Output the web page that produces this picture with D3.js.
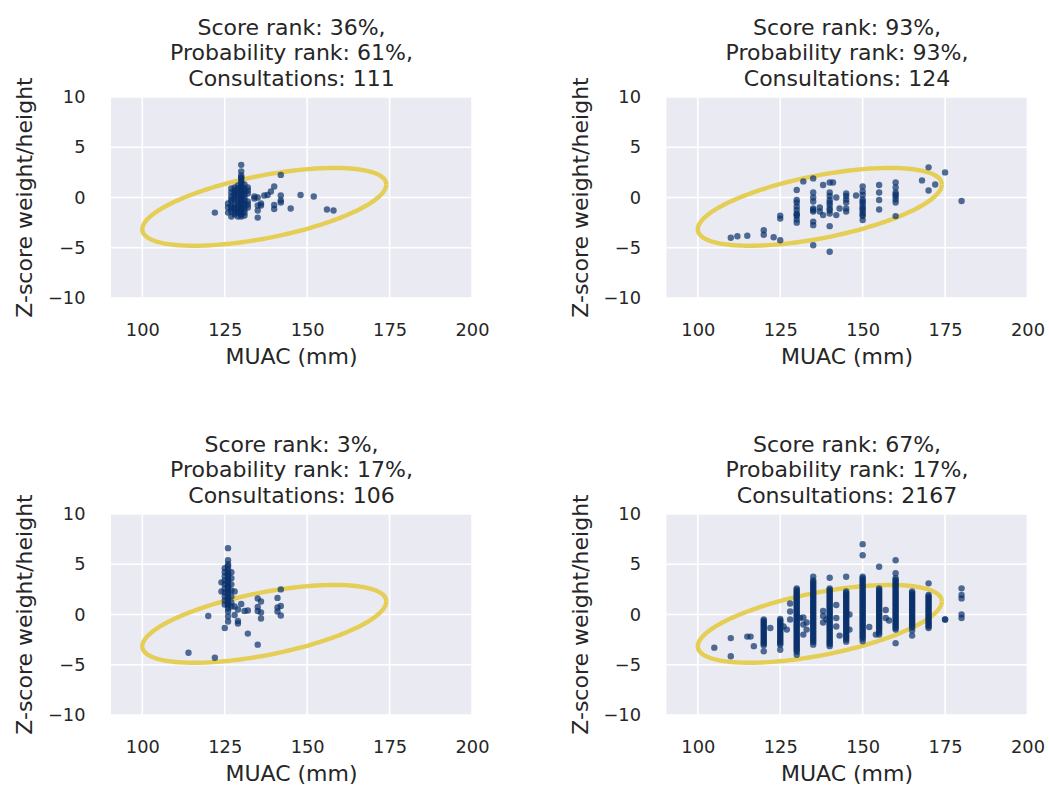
<html>
<head>
<meta charset="utf-8">
<style>
body
{
  margin:0;
  background:#ffffff;
}
text
{
  font-family:"DejaVu Sans", sans-serif;
  fill:#262626;
}
</style>
<script type="text/javascript" src="https://cdnjs.cloudflare.com/ajax/libs/d3/7.8.5/d3.min.js"></script>
</head>
<body>
<script>
// panel headers
var scoreRanks = ["36%", "93%", "3%", "67%"];
var probRanks = ["61%", "93%", "17%", "17%"];
var consultations = [111, 124, 106, 2167];

var xTicks = [100, 125, 150, 175, 200];
var yTicks = [-10, -5, 0, 5, 10];
var xDomain = [90.5, 200];
var yDomain = [-10, 10];

// reference ellipse (data units): centre, semi axes, angle in degrees
var ellipseCenter = [137, -0.93];
var ellipseRadii = [37.07, 3.16];
var ellipseAngle = 3.47;

// [MUAC, z-score]
var tlPoints = [
  [122,-1.5],[126,-1.0],[126,-1.5],[126,-0.6],
  [127,-1.9],[127,-1.4],[127,-0.9],[127,-0.4],[127,0.1],[127,0.5],[127,0.9],[127,-1.1],[127,-0.2],
  [128,-1.7],[128,-1.2],[128,-0.7],[128,-0.2],[128,0.3],[128,0.7],[128,-1.0],[128,0.0],[128,-1.5],[128,0.5],[128,1.0],
  [129,-1.5],[129,-0.5],[129,0.5],[129,1.2],[129,-1.9],[129,0.9],[129,-1.1],[129,-0.2],[129,0.2],[129,-0.8],[129,-1.3],
  [130,3.25],[130,2.6],[130,2.2],[130,1.9],[130,1.6],[130,1.3],[130,1.0],[130,0.7],[130,0.4],[130,0.1],
  [130,-0.2],[130,-0.5],[130,-0.8],[130,-1.1],[130,-1.4],[130,-1.7],[130,-1.9],[130,2.0],[130,0.9],
  [130,-0.3],[130,-1.2],[130,1.5],[130,0.2],[130,-0.9],[130,-1.6],[130,0.5],[130,-0.6],[130,1.1],
  [131,1.3],[131,0.6],[131,0.0],[131,-0.6],[131,-1.2],[131,-1.8],[131,-0.3],[131,0.3],[131,-0.9],[131,-1.5],[131,0.9],
  [132,1.0],[132,0.4],[132,-0.4],[132,-1.0],[132,-0.7],[132,0.7],
  [134,0.1],[134,-0.1],
  [135,-0.8],[135,-1.3],[135,-2.0],[135,0.0],
  [136,-0.8],[136,-0.6],
  [137,0.2],[138,0.25],[139,0.6],[140,1.1],[140,-0.75],[140,-1.15],
  [142,2.25],[142,0.2],[142,-0.3],[142,-0.5],
  [145,-1.1],[148,0.25],[152,0.1],[156,-1.2],[158,-1.3]
];

var trPoints = [
  [110,-4.0],[112,-3.85],[115,-3.8],[120,-3.25],[120,-3.7],[123,-3.95],[125,-4.25],[125,-1.8],[125,-2.1],
  [130,0.75],[130,-0.25],[130,-0.5],[130,-0.9],[130,-1.25],[130,-1.6],[130,-1.85],[130,-2.2],[130,-2.5],[130,-1.7],
  [132,1.6],[135,1.9],[135,0.5],[135,-0.4],[135,-1.1],[135,-1.4],[135,-2.4],[135,-2.75],[135,-4.75],[135,-1.25],[135,0.0],
  [137,-1.4],[138,-1.75],[138,1.25],[137,-1.0],
  [140,1.5],[140,0.5],[140,0.15],[140,-0.25],[140,-0.75],[140,-1.1],[140,-1.6],[140,-2.85],[140,-5.4],[141,1.5],
  [140,-0.5],[140,-1.3],
  [142,0.0],[142,-1.75],[143,-1.1],
  [145,0.4],[145,0.15],[145,-0.2],[145,-0.5],[145,-1.4],[145,-1.1],
  [148,0.2],
  [150,1.1],[150,0.6],[150,0.25],[150,-0.2],[150,-0.6],[150,-0.9],[150,-1.25],[150,-1.5],[150,-1.85],[150,-2.25],
  [150,-0.4],[150,-1.1],[150,-1.7],
  [155,1.25],[155,0.5],[155,-0.25],[155,-1.2],
  [160,1.5],[160,1.0],[160,0.5],[160,0.1],[160,-0.2],[160,-0.5],[160,-1.85],[160,0.3],
  [168,1.7],[170,3.0],[170,0.7],[172,1.3],[175,2.5],[180,-0.35]
];

var blPoints = [
  [114,-3.8],[120,-0.15],[122,-4.3],
  [124,2.3],[124,3.2],
  [125,4.6],[125,4.2],[125,3.8],[125,3.4],[125,3.0],[125,2.6],[125,2.2],[125,1.8],[125,1.4],[125,1.0],[125,-1.35],
  [126,6.6],[126,5.4],[126,5.0],[126,4.8],[126,4.5],[126,4.2],[126,3.9],[126,3.6],[126,3.3],[126,3.0],
  [126,2.7],[126,2.4],[126,2.1],[126,1.8],[126,1.5],[126,1.2],[126,0.9],[126,0.6],[126,0.3],[126,-0.2],[126,-0.7],
  [126,4.0],[126,3.4],[126,2.8],[126,2.2],[126,1.6],[126,1.0],
  [127,4.2],[127,3.6],[127,3.0],[127,2.4],[127,1.8],[127,1.2],[127,0.8],
  [128,2.3],[128,0.8],[128,-0.05],
  [129,0.5],[129,-0.65],[129,-0.9],[130,1.05],[131,0.35],[132,0.4],[132,-1.9],
  [135,1.6],[135,0.75],[135,0.35],[135,-3.0],[136,1.3],[136,0.2],[136,-0.4],
  [141,1.65],[141,0.7],[141,0.3],[142,0.85],[142,-0.1],[142,2.5]
];

// bottom right panel is dense: [MUAC, list of z-scores]
var brColumns = [
  [105, [-3.3]],
  [110, [-2.35, -4.15]],
  [115, [-2.2]], [116, [-2.2]], [117, [-3.15]],
  [120, [-0.5,-0.65,-0.8,-0.95,-1.1,-1.25,-1.4,-1.55,-1.7,-1.85,-2.0,-2.15,-2.3,-2.45,-2.6,-2.75,-2.9,-3.05,-3.65]],
  [122, [-1.35]],
  [125, [-0.45,-0.6,-0.75,-0.9,-1.05,-1.2,-1.35,-1.5,-1.65,-1.8,-1.95,-2.1,-2.25,-2.4,-2.55,-2.7,-2.85,-3.0,-3.5]],
  [126, [-1.2]], [127, [-1.5]],
  [128, [1.1, 0.3, -0.5]],
  [130, [2.6,2.45,2.3,2.15,2.0,1.85,1.7,1.55,1.4,1.25,1.1,0.95,0.8,0.65,0.5,0.35,0.2,0.05,-0.1,-0.25,-0.4,-0.55,
         -0.7,-0.85,-1.0,-1.15,-1.3,-1.45,-1.6,-1.75,-1.9,-2.05,-2.2,-2.35,-2.5,-2.65,-2.8,-2.95,-3.1,-3.25,-3.4,
         -3.55,-3.7,-4.0]],
  [131, [-0.35]],
  [132, [-1.0, -2.0, -0.3]],
  [133, [-0.8, -1.5]],
  [135, [3.75,3.4,3.25,3.1,2.95,2.8,2.65,2.5,2.35,2.2,2.05,1.9,1.75,1.6,1.45,1.3,1.15,1.0,0.85,0.7,0.55,0.4,0.25,
         0.1,-0.05,-0.2,-0.35,-0.5,-0.65,-0.8,-0.95,-1.1,-1.25,-1.4,-1.55,-1.7,-1.85,-2.0,-2.15,-2.3,-2.45,-2.6,
         -2.75,-3.0]],
  [138, [0.35, -0.15, -0.8]], [139, [-0.5]],
  [140, [3.65,2.6,2.45,2.3,2.15,2.0,1.85,1.7,1.55,1.4,1.25,1.1,0.95,0.8,0.65,0.5,0.35,0.2,0.05,-0.1,-0.25,-0.4,
         -0.55,-0.7,-0.85,-1.0,-1.15,-1.3,-1.45,-1.6,-1.75,-1.9,-2.05,-2.2,-2.35,-2.5,-2.65,-2.8,-2.95,-3.15]],
  [142, [0.95, -0.35, -1.2]], [143, [-2.1]],
  [145, [3.75,2.3,2.15,2.0,1.85,1.7,1.55,1.4,1.25,1.1,0.95,0.8,0.65,0.5,0.35,0.2,0.05,-0.1,-0.25,-0.4,-0.55,-0.7,
         -0.85,-1.0,-1.15,-1.3,-1.45,-1.6,-1.75,-1.9,-2.05,-2.2,-2.35,-2.5,-2.7]],
  [146, [0.0, -1.5]],
  [150, [7.0,5.9,3.75,3.6,3.45,3.3,3.15,3.0,2.85,2.7,2.55,2.4,2.25,2.1,1.95,1.8,1.65,1.5,1.35,1.2,1.05,0.9,0.75,
         0.6,0.45,0.3,0.15,0.0,-0.15,-0.3,-0.45,-0.6,-0.75,-0.9,-1.05,-1.2,-1.35,-1.5,-1.65,-1.8,-1.95,-2.1,-2.25,
         -2.4,-2.65]],
  [152, [-1.25]], [154, [-2.0]],
  [155, [4.75,2.6,2.45,2.3,2.15,2.0,1.85,1.7,1.55,1.4,1.25,1.1,0.95,0.8,0.65,0.5,0.35,0.2,0.05,-0.1,-0.25,-0.4,
         -0.55,-0.7,-0.85,-1.0,-1.15,-1.3,-1.45,-1.6,-1.8,-2.0]],
  [157, [-0.35, 0.45]], [158, [-0.6]],
  [160, [5.4,4.1,3.6,3.45,3.3,3.15,3.0,2.85,2.7,2.55,2.4,2.25,2.1,1.95,1.8,1.65,1.5,1.35,1.2,1.05,0.9,0.75,0.6,
         0.45,0.3,0.15,0.0,-0.15,-0.3,-0.45,-0.6,-0.75,-0.9,-1.05,-1.2,-1.35,-1.5,-2.85]],
  [165, [2.3,2.15,2.0,1.85,1.7,1.55,1.4,1.25,1.1,0.95,0.8,0.65,0.5,0.35,0.2,0.05,-0.1,-0.25,-0.4,-0.55,-0.7,
         -0.85,-1.0,-1.15,-1.3,-1.6,-2.1]],
  [170, [3.1,1.95,1.8,1.65,1.5,1.35,1.2,1.05,0.9,0.75,0.6,0.45,0.3,0.15,0.0,-0.15,-0.3,-0.45,-0.6,-0.75,-0.9,
         -1.05,-1.2,-1.35]],
  [175, [-0.5, -0.5]],
  [180, [2.6, 1.95, 1.6, 0.0, -0.35]]
];

var brPoints = [];
brColumns.forEach(function(c){
  c[1].forEach(function(z){ brPoints.push([c[0], z]); });
});

var panelData = [tlPoints, trPoints, blPoints, brPoints];

var W = 1049, H = 785;
var axLeft = [111, 666.5];
var axTop = [97, 514];
var axW = 361, axH = 201;

var svg = d3.select("body")
  .append("svg")
  .attr("width", W)
  .attr("height", H);

svg.append("rect").attr("width", W).attr("height", H).attr("fill", "#ffffff");

function ellipseRing()
{
  var pts = [];
  var a = ellipseAngle * Math.PI / 180;
  for (var i = 0; i <= 200; i++) {
    var t = i / 200 * 2 * Math.PI;
    var ex = ellipseRadii[0] * Math.cos(t), ey = ellipseRadii[1] * Math.sin(t);
    pts.push([ellipseCenter[0] + ex * Math.cos(a) - ey * Math.sin(a),
              ellipseCenter[1] + ex * Math.sin(a) + ey * Math.cos(a)]);
  }
  return pts;
}

function drawPanel(i)
{
  var left = axLeft[i % 2], top = axTop[Math.floor(i / 2)];

  var x = d3.scaleLinear().domain(xDomain).range([0, axW]);
  var y = d3.scaleLinear().domain(yDomain).range([axH, 0]);

  var g = svg.append("g").attr("transform", "translate(" + left + "," + top + ")");

  g.append("rect").attr("width", axW).attr("height", axH).attr("fill", "#eaeaf2");

  g.selectAll(".gx").data(xTicks).enter().append("line")
    .attr("x1", function(d){ return x(d); }).attr("x2", function(d){ return x(d); })
    .attr("y1", 0).attr("y2", axH)
    .attr("stroke", "#ffffff").attr("stroke-width", 1.6);
  g.selectAll(".gy").data(yTicks).enter().append("line")
    .attr("y1", function(d){ return y(d); }).attr("y2", function(d){ return y(d); })
    .attr("x1", 0).attr("x2", axW)
    .attr("stroke", "#ffffff").attr("stroke-width", 1.6);

  var xa = g.append("g").attr("transform", "translate(0," + axH + ")")
    .call(d3.axisBottom(x).tickValues(xTicks).tickSize(0).tickPadding(25.5));
  var ya = g.append("g")
    .call(d3.axisLeft(y).tickValues(yTicks).tickSize(0).tickPadding(25.5));
  [xa, ya].forEach(function(a){
    a.select(".domain").remove();
    a.selectAll("text").attr("font-size", "17.8px")
      .attr("font-family", "DejaVu Sans").attr("fill", "#262626");
  });

  var line = d3.line().x(function(d){ return x(d[0]); }).y(function(d){ return y(d[1]); });
  g.append("path").datum(ellipseRing())
    .attr("d", line)
    .attr("fill", "none")
    .attr("stroke", "#e5ce55")
    .attr("stroke-width", 4.4);

  g.selectAll(".pt").data(panelData[i]).enter().append("circle")
    .attr("cx", function(d){ return x(d[0]); })
    .attr("cy", function(d){ return y(d[1]); })
    .attr("r", 3.2)
    .attr("fill", "#08306b")
    .attr("fill-opacity", 0.7);

  var titleLines = ["Score rank: " + scoreRanks[i] + ",",
                    "Probability rank: " + probRanks[i] + ",",
                    "Consultations: " + consultations[i]];
  titleLines.forEach(function(t, k){
    g.append("text")
      .attr("x", axW / 2)
      .attr("y", -62.5 + k * 25.5)
      .attr("text-anchor", "middle")
      .attr("font-size", "22px")
      .text(t);
  });

  g.append("text")
    .attr("x", axW / 2)
    .attr("y", axH + 66)
    .attr("text-anchor", "middle")
    .attr("font-size", "22px")
    .text("MUAC (mm)");

  g.append("text")
    .attr("transform", "translate(" + (32 - axLeft[0]) + "," + (axH / 2) + ") rotate(-90)")
    .attr("text-anchor", "middle")
    .attr("font-size", "22px")
    .text("Z-score weight/height");
}

for (var p = 0; p < 4; p++) {
  drawPanel(p);
}
</script>
</body>
</html>
